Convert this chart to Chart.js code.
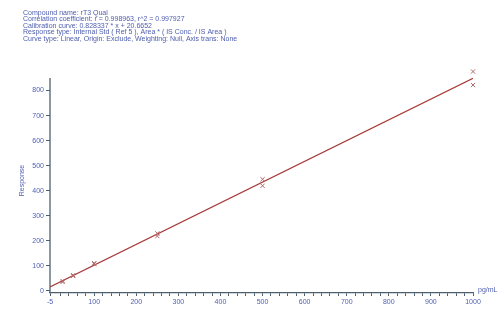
<!DOCTYPE html>
<html>
<head>
<meta charset="utf-8">
<script src="https://cdn.jsdelivr.net/npm/chart.js@4.4.1/dist/chart.umd.min.js"></script>
<style>
  html, body { margin: 0; padding: 0; background: #fff; }
  #wrap { width: 504px; height: 324px; }
</style>
</head>
<body>
<div id="wrap"><canvas id="calib_chart" width="504" height="324"></canvas></div>
<script>
// header lines printed above the plot
var headerLines = [
    "Compound name: rT3 Qual",
    "Correlation coefficient: r = 0.998963, r^2 = 0.997927",
    "Calibration curve: 0.828337 * x + 20.6652",
    "Response type: Internal Std ( Ref 5 ), Area * ( IS Conc. / IS Area )",
    "Curve type: Linear, Origin: Exclude, Weighting: Null, Axis trans: None"
];

// calibration standards (conc, response)
var concData = [25, 25, 50, 50, 100, 100, 250, 250, 500, 500, 1000, 1000];
var respData = [36, 40, 60, 63, 108, 111, 230, 219, 446, 420, 876, 822];

// fitted line end points
var fitConc = [-5, 1000];
var fitResp = [16.5, 849.0];

// axis ticks
var xMajorTicks = [-5, 100, 200, 300, 400, 500, 600, 700, 800, 900, 1000];
var xMinorTicks = [20, 40, 60, 80];
var yMajorTicks = [0, 100, 200, 300, 400, 500, 600, 700, 800];
var yAxisTop = 850;

var textBlue = '#4e5eae';
var axisColor = '#4d5f6e';
var fontName = "'Liberation Sans', Arial, sans-serif";

var xTickValues = [];
xMajorTicks.forEach(function (v) { xTickValues.push(v); });
for (var h = 0; h < 1000; h += 100) {
    xMinorTicks.forEach(function (m) { xTickValues.push(h + m); });
}
xTickValues.sort(function (a, b) { return a - b; });

var pointsStd = concData.map(function (c, i) { return { x: c, y: respData[i] }; });
var pointsFit = fitConc.map(function (c, i) { return { x: c, y: fitResp[i] }; });

var headerPlugin = {
    id: 'headerText',
    beforeDatasetsDraw: function (chart) {
        // y axis line, stops at yAxisTop like the original
        var ctx = chart.ctx;
        var ys = chart.scales.y;
        var area = chart.chartArea;
        ctx.save();
        ctx.strokeStyle = axisColor;
        ctx.lineWidth = 1.3;
        ctx.beginPath();
        ctx.moveTo(area.left, area.bottom);
        ctx.lineTo(area.left, ys.getPixelForValue(yAxisTop));
        ctx.stroke();
        ctx.restore();
    },
    afterDraw: function (chart) {
        var ctx = chart.ctx;
        ctx.save();
        ctx.fillStyle = textBlue;
        ctx.font = "7px " + fontName;
        ctx.textBaseline = 'middle';
        ctx.textAlign = 'left';
        headerLines.forEach(function (line, i) {
            ctx.fillText(line, 23, 13 + i * 6.4);
        });
        // unit label at the end of the x axis
        ctx.fillText("pg/mL", 478, 290);
        ctx.restore();
    }
};

var ctx = document.getElementById("calib_chart").getContext("2d");
var calib_chart = new Chart(ctx, {
    type: 'scatter',
    data: {
        datasets: [{
            label: 'Standards',
            data: pointsStd,
            pointStyle: 'crossRot',
            pointRadius: 3,
            borderWidth: 1,
            borderColor: '#b06868',
            backgroundColor: '#b06868',
            clip: false,
            order: 1
        }, {
            label: 'Fit',
            type: 'line',
            data: pointsFit,
            borderColor: '#a83a3a',
            borderWidth: 1.2,
            pointRadius: 0,
            fill: false,
            order: 2
        }]
    },
    options: {
        responsive: false,
        animation: false,
        devicePixelRatio: 1,
        layout: { padding: { top: 68, right: 31, left: 0, bottom: 0 } },
        plugins: {
            legend: { display: false },
            tooltip: { enabled: false }
        },
        scales: {
            x: {
                type: 'linear',
                min: -5,
                max: 1000,
                afterBuildTicks: function (scale) {
                    scale.ticks = xTickValues.map(function (v) { return { value: v }; });
                },
                afterFit: function (scale) { scale.height = 31; },
                border: { display: true, color: axisColor, width: 1.3 },
                grid: {
                    drawOnChartArea: false,
                    drawTicks: true,
                    tickLength: 3,
                    tickColor: axisColor
                },
                ticks: {
                    autoSkip: false,
                    maxRotation: 0,
                    padding: 2,
                    color: textBlue,
                    font: { family: fontName, size: 7 },
                    callback: function (v) {
                        return xMajorTicks.indexOf(v) >= 0 ? String(v) : '';
                    }
                }
            },
            y: {
                type: 'linear',
                min: -8,
                max: 890,
                afterBuildTicks: function (scale) {
                    scale.ticks = yMajorTicks.map(function (v) { return { value: v }; });
                },
                afterFit: function (scale) { scale.width = 50; },
                border: { display: false },
                grid: {
                    drawOnChartArea: false,
                    drawTicks: true,
                    tickLength: 4,
                    tickColor: axisColor
                },
                title: {
                    display: true,
                    text: 'Response',
                    color: textBlue,
                    font: { family: fontName, size: 7 },
                    padding: { top: 18, bottom: 0 }
                },
                ticks: {
                    autoSkip: false,
                    padding: 2,
                    color: textBlue,
                    font: { family: fontName, size: 7 }
                }
            }
        }
    },
    plugins: [headerPlugin]
});
</script>
</body>
</html>
